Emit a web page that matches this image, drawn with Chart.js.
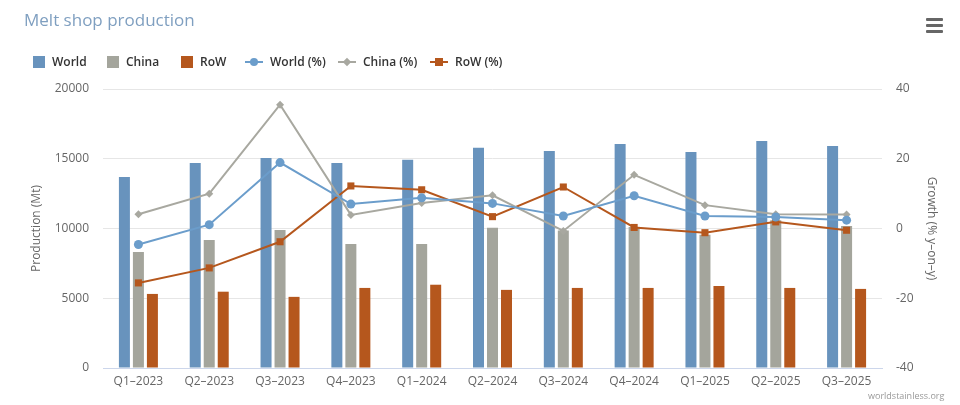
<!DOCTYPE html>
<html>
<head>
<meta charset="utf-8">
<title>Melt shop production</title>
<script src="https://cdn.jsdelivr.net/npm/chart.js@4.4.0/dist/chart.umd.min.js"></script>
<style>
  html, body { margin: 0; padding: 0; background: #fff; }
  #wrap { position: relative; width: 960px; height: 405px; font-family: "Open Sans", sans-serif; }
  #grafico { position: absolute; left: 0; top: 0; }
  #titulo { position: absolute; left: 24px; top: 8px; font-size: 17px; color: #7f9fc0; }
  #menu { position: absolute; left: 926px; top: 18px; width: 17px; }
  #menu div { height: 2.5px; background: #666; margin-bottom: 3.5px; border-radius: 1px; }
  #legenda { position: absolute; left: 33px; top: 53px; height: 18px; font-size: 12px; font-weight: 600; color: #333; }
  .item { position: absolute; top: 0; height: 18px; line-height: 18px; white-space: nowrap; }
  .caixa { position: absolute; top: 3px; width: 12px; height: 12px; }
  .linha { position: absolute; top: 8px; width: 18px; height: 2px; }
  .marca { position: absolute; }
  #credito { position: absolute; left: 868px; top: 389px; font-size: 9px; color: #999; }
</style>
</head>
<body>
<div id="wrap">
  <canvas id="grafico" width="960" height="405"></canvas>
  <div id="titulo">Melt shop production</div>
  <div id="menu"><div></div><div></div><div></div></div>
  <div id="legenda"></div>
  <div id="credito">worldstainless.org</div>
</div>
<script>
// dados
var trimestres = ['Q1\u20132023', 'Q2\u20132023', 'Q3\u20132023', 'Q4\u20132023', 'Q1\u20132024', 'Q2\u20132024',
                  'Q3\u20132024', 'Q4\u20132024', 'Q1\u20132025', 'Q2\u20132025', 'Q3\u20132025'];

var producaoMundo = [13700, 14700, 15050, 14700, 14920, 15780, 15560, 16060, 15490, 16280, 15920];
var producaoChina = [8320, 9180, 9890, 8890, 8890, 10060, 9860, 10100, 9560, 10600, 10180];
var producaoRoW   = [5310, 5470, 5100, 5740, 5970, 5600, 5740, 5740, 5880, 5740, 5670];

var crescMundo = [-4.6, 1.1, 18.9, 7.0, 8.8, 7.2, 3.6, 9.4, 3.6, 3.3, 2.4];
var crescChina = [4.1, 10.0, 35.5, 3.9, 7.3, 9.5, -0.7, 15.4, 6.7, 4.1, 4.0];
var crescRoW   = [-15.6, -11.3, -3.8, 12.2, 11.1, 3.4, 11.9, 0.3, -1.2, 1.9, -0.5];

var ticksProducao = [0, 5000, 10000, 15000, 20000];
var ticksCrescimento = [-40, -20, 0, 20, 40];

var corMundo = '#6893bd';
var corChina = '#a4a59c';
var corRoW = '#b5571d';
var corMundoLinha = '#6b9dcb';
var corChinaLinha = '#a8a8a0';

// legenda em HTML
var itensLegenda = [
    { texto: 'World', tipo: 'caixa', cor: corMundo, x: 0 },
    { texto: 'China', tipo: 'caixa', cor: corChina, x: 74 },
    { texto: 'RoW', tipo: 'caixa', cor: corRoW, x: 148 },
    { texto: 'World (%)', tipo: 'circulo', cor: corMundoLinha, x: 212 },
    { texto: 'China (%)', tipo: 'losango', cor: corChinaLinha, x: 305 },
    { texto: 'RoW (%)', tipo: 'quadrado', cor: corRoW, x: 397 }
];
var legenda = document.getElementById('legenda');
itensLegenda.forEach(function(it) {
    var el = document.createElement('div');
    el.className = 'item';
    el.style.left = it.x + 'px';
    var simbolo = '';
    var textoX = 19;
    if (it.tipo === 'caixa') {
        simbolo = '<div class="caixa" style="left:0;background:' + it.cor + '"></div>';
    } else {
        var m = '';
        if (it.tipo === 'circulo') {
            m = '<div class="marca" style="left:5px;top:5px;width:8px;height:8px;border-radius:50%;background:' + it.cor + '"></div>';
        } else if (it.tipo === 'losango') {
            m = '<div class="marca" style="left:6px;top:6px;width:6px;height:6px;transform:rotate(45deg);background:' + it.cor + '"></div>';
        } else {
            m = '<div class="marca" style="left:5px;top:5px;width:8px;height:8px;background:' + it.cor + '"></div>';
        }
        simbolo = '<div class="linha" style="left:0;background:' + it.cor + '"></div>' + m;
        textoX = 25;
    }
    el.innerHTML = simbolo + '<span style="position:absolute;left:' + textoX + 'px">' + it.texto + '</span>';
    legenda.appendChild(el);
});

var ctx = document.getElementById('grafico').getContext('2d');
new Chart(ctx, {
    type: 'bar',
    data: {
        labels: trimestres,
        datasets: [
            { label: 'World', data: producaoMundo, backgroundColor: corMundo, yAxisID: 'y', order: 2,
              categoryPercentage: 0.593, barPercentage: 0.786 },
            { label: 'China', data: producaoChina, backgroundColor: corChina, yAxisID: 'y', order: 2,
              categoryPercentage: 0.593, barPercentage: 0.786 },
            { label: 'RoW', data: producaoRoW, backgroundColor: corRoW, yAxisID: 'y', order: 2,
              categoryPercentage: 0.593, barPercentage: 0.786 },
            { type: 'line', label: 'World (%)', data: crescMundo, yAxisID: 'y1', order: 1,
              borderColor: corMundoLinha, backgroundColor: corMundoLinha, borderWidth: 2,
              pointStyle: 'circle', pointRadius: 4.5, pointBorderWidth: 0 },
            { type: 'line', label: 'China (%)', data: crescChina, yAxisID: 'y1', order: 1,
              borderColor: corChinaLinha, backgroundColor: corChinaLinha, borderWidth: 2,
              pointStyle: 'rectRot', pointRadius: 4, pointBorderWidth: 0 },
            { type: 'line', label: 'RoW (%)', data: crescRoW, yAxisID: 'y1', order: 1,
              borderColor: corRoW, backgroundColor: corRoW, borderWidth: 2,
              pointStyle: 'rect', pointRadius: 5, pointBorderWidth: 0 }
        ]
    },
    options: {
        responsive: false,
        animation: false,
        layout: { padding: { top: 89, left: 0, right: 0, bottom: 0 } },
        plugins: {
            legend: { display: false },
            tooltip: { enabled: false }
        },
        scales: {
            x: {
                grid: { display: false, drawTicks: false },
                border: { color: '#ccd6eb', width: 1 },
                ticks: { color: '#666', font: { family: 'Open Sans', size: 12 }, padding: 6, maxRotation: 0, autoSkip: false },
                afterFit: function(s) { s.height = 37; }
            },
            y: {
                position: 'left',
                min: 0, max: 20000,
                afterBuildTicks: function(s) { s.ticks = ticksProducao.map(function(v) { return { value: v }; }); },
                grid: { color: '#e6e6e6', drawTicks: false },
                border: { display: false },
                ticks: { color: '#666', font: { family: 'Open Sans', size: 12 }, padding: 14,
                         callback: function(v) { return String(v); } },
                title: { display: true, text: 'Production (Mt)', color: '#666',
                         font: { family: 'Open Sans', size: 12 }, padding: { top: 29, bottom: 0 } },
                afterFit: function(s) { s.width = 103; }
            },
            y1: {
                position: 'right',
                min: -40, max: 40,
                afterBuildTicks: function(s) { s.ticks = ticksCrescimento.map(function(v) { return { value: v }; }); },
                grid: { display: false, drawTicks: false },
                border: { display: false },
                ticks: { color: '#666', font: { family: 'Open Sans', size: 12 }, padding: 14,
                         callback: function(v) { return String(v); } },
                title: { display: true, text: 'Growth (% y\u2013on\u2013y)', color: '#666',
                         font: { family: 'Open Sans', size: 12 }, padding: { top: 21, bottom: 0 } },
                afterFit: function(s) { s.width = 78; }
            }
        }
    }
});
</script>
</body>
</html>
